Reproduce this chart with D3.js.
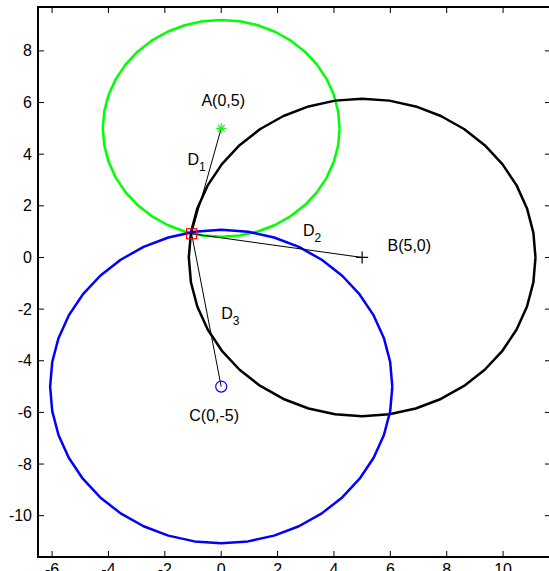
<!DOCTYPE html>
<style>
body { margin: 0; background: #fff; }
text { font-family: "Liberation Sans", Arial, sans-serif; }
</style>
<svg id="plot" width="549" height="571"></svg>
<script src="https://d3js.org/d3.v7.min.js"></script>
<script>

// anchors, ranges and the estimated position
var anchorNames = ["A", "B", "C"];
var anchorX = [0, 5, 0];
var anchorY = [5, 0, -5];
var radii = [4.2, 6.15, 6.07];
var circleColors = ["#00ff00", "#000000", "#0000ff"];
var estimate = [-1.05, 0.92];
var xTicks = [-6, -4, -2, 0, 2, 4, 6, 8, 10];
var yTicks = [-10, -8, -6, -4, -2, 0, 2, 4, 6, 8];

var svg = d3.select("#plot");
var x = d3.scaleLinear().domain([-6.5, 11.7]).range([38, 551]);
var y = d3.scaleLinear().domain([-11.6, 9.7]).range([557, 7]);

var line = d3.line().x(function(d) { return x(d[0]); }).y(function(d) { return y(d[1]); });

// range circles, drawn coarse like the original
var steps = d3.range(0, 41).map(function(i) { return i / 40 * 2 * Math.PI; });
anchorX.forEach(function(cx, i) {
  var pts = steps.map(function(t) { return [cx + radii[i] * Math.cos(t), anchorY[i] + radii[i] * Math.sin(t)]; });
  svg.append("path")
    .attr("d", line(pts))
    .attr("fill", "none")
    .attr("stroke", circleColors[i])
    .attr("stroke-width", 2.5)
    .attr("stroke-linejoin", "round");
});

// distance lines
anchorX.forEach(function(cx, i) {
  svg.append("path")
    .attr("d", line([estimate, [cx, anchorY[i]]]))
    .attr("stroke", "#000")
    .attr("stroke-width", 1);
});

// markers
var ax = x(anchorX[0]), ay = y(anchorY[0]);
var star = svg.append("g").attr("stroke", "#00ff00").attr("stroke-width", 1.2);
[0, 45, 90, 135].forEach(function(a) {
  var r = a * Math.PI / 180;
  star.append("line")
    .attr("x1", ax - 5 * Math.cos(r)).attr("y1", ay - 5 * Math.sin(r))
    .attr("x2", ax + 5 * Math.cos(r)).attr("y2", ay + 5 * Math.sin(r));
});
var bx = x(anchorX[1]), by = y(anchorY[1]);
svg.append("path")
  .attr("d", "M" + (bx - 6) + "," + by + "H" + (bx + 6) + "M" + bx + "," + (by - 6) + "V" + (by + 6))
  .attr("stroke", "#000").attr("stroke-width", 1.2);
svg.append("circle")
  .attr("cx", x(anchorX[2])).attr("cy", y(anchorY[2])).attr("r", 5.5)
  .attr("fill", "none").attr("stroke", "#0000ff").attr("stroke-width", 1.2);
svg.append("rect")
  .attr("x", x(estimate[0]) - 5).attr("y", y(estimate[1]) - 5)
  .attr("width", 10).attr("height", 10)
  .attr("fill", "none").attr("stroke", "#ff0000").attr("stroke-width", 1.2);

// anchor labels
var labelPos = [[0.07, 5.85, "middle"], [5.9, 0.25, "start"], [-0.25, -6.35, "middle"]];
anchorNames.forEach(function(n, i) {
  svg.append("text")
    .attr("x", x(labelPos[i][0])).attr("y", y(labelPos[i][1]))
    .attr("text-anchor", labelPos[i][2])
    .attr("font-size", 16)
    .text(n + "(" + anchorX[i] + "," + anchorY[i] + ")");
});

// distance labels
var dPos = [[-1.2, 3.6], [2.9, 0.85], [0, -2.4]];
dPos.forEach(function(p, i) {
  var t = svg.append("text").attr("x", x(p[0])).attr("y", y(p[1])).attr("font-size", 16);
  t.append("tspan").text("D");
  t.append("tspan").attr("dy", 6).attr("font-size", 12).text(i + 1);
});

// axes box with inward ticks
svg.append("rect")
  .attr("x", 38).attr("y", 7).attr("width", 513).attr("height", 550)
  .attr("fill", "none").attr("stroke", "#000").attr("stroke-width", 2);

xTicks.forEach(function(t) {
  svg.append("line").attr("x1", x(t)).attr("x2", x(t)).attr("y1", 557).attr("y2", 551).attr("stroke", "#000");
  svg.append("line").attr("x1", x(t)).attr("x2", x(t)).attr("y1", 7).attr("y2", 13).attr("stroke", "#000");
  svg.append("text").attr("x", x(t)).attr("y", 575).attr("text-anchor", "middle").attr("font-size", 16).text(t);
});
yTicks.forEach(function(t) {
  svg.append("line").attr("x1", 38).attr("x2", 44).attr("y1", y(t)).attr("y2", y(t)).attr("stroke", "#000");
  svg.append("line").attr("x1", 551).attr("x2", 545).attr("y1", y(t)).attr("y2", y(t)).attr("stroke", "#000");
  svg.append("text").attr("x", 32).attr("y", y(t)).attr("dy", "0.35em").attr("text-anchor", "end").attr("font-size", 16).text(t);
});
</script>
